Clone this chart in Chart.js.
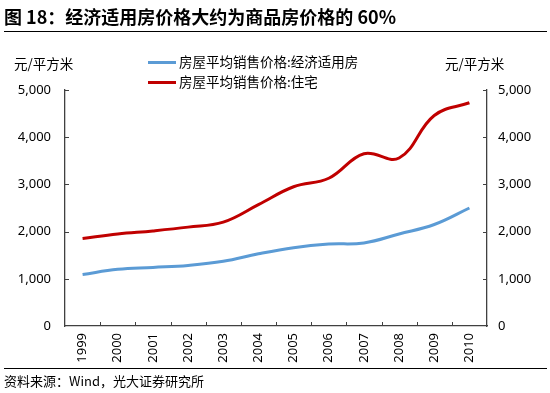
<!DOCTYPE html>
<html>
<head>
<meta charset="utf-8">
<script src="https://cdn.jsdelivr.net/npm/chart.js@4"></script>
<style>
  body { margin: 0; background: #fff; }
  #wrap { position: relative; width: 550px; height: 393px; overflow: hidden;
          font-family: "Noto Sans CJK SC", "Noto Sans", sans-serif; color: #000; }
  #myChart { position: absolute; left: 0; top: 0; }
  .title { position: absolute; left: 4px; top: 4px; font-size: 18px; font-weight: bold; white-space: nowrap; line-height: 25px; }
  .rule { position: absolute; left: 4px; width: 543px; height: 0; border-top: 1.5px solid #000; }
  .unit { position: absolute; top: 53px; font-size: 13.5px; line-height: 20px; white-space: nowrap; }
  .legend { position: absolute; left: 148px; top: 51px; font-size: 13.5px; line-height: 20px; }
  .legend div { white-space: nowrap; height: 20px; }
  .legend span { display: inline-block; width: 28px; height: 0; border-top: 3px solid; vertical-align: middle; margin-right: 3px; position: relative; top: -1px; }
  .source { position: absolute; left: 4px; top: 372px; font-size: 13px; line-height: 18px; white-space: nowrap; }
</style>
</head>
<body>
<div id="wrap">
  <canvas id="myChart" width="550" height="393"></canvas>
  <div class="title">图 18：经济适用房价格大约为商品房价格的 60%</div>
  <div class="rule" style="top:31px"></div>
  <div class="unit" style="left:14px">元/平方米</div>
  <div class="unit" style="left:445px">元/平方米</div>
  <div class="legend" id="legend"></div>
  <div class="rule" style="top:368px"></div>
  <div class="source">资料来源：Wind，光大证券研究所</div>
</div>
<script>
const years = ["1999", "2000", "2001", "2002", "2003", "2004", "2005", "2006", "2007", "2008", "2009", "2010"];
const affordable = [1090, 1200, 1240, 1283, 1370, 1530, 1660, 1735, 1760, 1950, 2150, 2500]; // 经济适用房
const housing = [1855, 1950, 2015, 2095, 2200, 2570, 2950, 3130, 3650, 3560, 4460, 4730];   // 住宅
const seriesNames = ["房屋平均销售价格:经济适用房", "房屋平均销售价格:住宅"];
const lineColors = ["#5B9BD5", "#C00000"];
const yTicks = [0, 1000, 2000, 3000, 4000, 5000];

const axisColor = "#404040";
const tickFont = { family: "'Noto Sans', 'Noto Sans CJK SC', sans-serif", size: 13 };

// legend as html text
document.getElementById("legend").innerHTML = seriesNames.map((n, i) =>
  '<div><span style="border-color:' + lineColors[i] + '"></span>' + n + '</div>').join("");

// short ticks pointing into the plot
const innerTicks = {
  id: "innerTicks",
  afterDraw(chart) {
    const ctx = chart.ctx;
    const x = chart.scales.x, yl = chart.scales.y, yr = chart.scales.y2;
    const area = chart.chartArea;
    ctx.save();
    ctx.strokeStyle = axisColor;
    ctx.lineWidth = 1;
    yTicks.slice(1).forEach(v => {
      const py = Math.round(yl.getPixelForValue(v)) + 0.5;
      ctx.beginPath(); ctx.moveTo(area.left, py); ctx.lineTo(area.left + 4, py); ctx.stroke();
      const pr = Math.round(yr.getPixelForValue(v)) + 0.5;
      ctx.beginPath(); ctx.moveTo(area.right, pr); ctx.lineTo(area.right - 4, pr); ctx.stroke();
    });
    for (let i = 0; i < years.length - 1; i++) {
      const px = Math.round((x.getPixelForValue(i) + x.getPixelForValue(i + 1)) / 2) + 0.5;
      ctx.beginPath(); ctx.moveTo(px, area.bottom); ctx.lineTo(px, area.bottom - 4); ctx.stroke();
    }
    ctx.restore();
  }
};

const yAxis = (pos, width) => ({
  type: "linear",
  position: pos,
  min: 0,
  max: 5000,
  afterBuildTicks: s => { s.ticks = yTicks.map(v => ({ value: v })); },
  afterFit: s => { s.width = width; },
  grid: { drawOnChartArea: false, drawTicks: false },
  border: { display: true, color: axisColor, width: 1.3 },
  ticks: {
    padding: pos === "left" ? 14 : 11,
    color: "#000",
    font: tickFont,
    callback: v => v.toLocaleString("en-US")
  }
});

new Chart("myChart", {
  type: "line",
  data: {
    labels: years,
    datasets: [
      { label: seriesNames[0], data: affordable, borderColor: lineColors[0], borderWidth: 3, pointRadius: 0, tension: 0.4, yAxisID: "y" },
      { label: seriesNames[1], data: housing, borderColor: lineColors[1], borderWidth: 3, pointRadius: 0, tension: 0.4, yAxisID: "y" },
      { label: "", data: [], yAxisID: "y2" }
    ]
  },
  plugins: [innerTicks],
  options: {
    responsive: false,
    animation: false,
    devicePixelRatio: 1,
    layout: { padding: { top: 90, bottom: 25, left: 0, right: 0 } },
    plugins: { legend: { display: false }, tooltip: { enabled: false } },
    scales: {
      x: {
        type: "category",
        offset: true,
        afterFit: s => { s.height = 42; },
        grid: { drawOnChartArea: false, drawTicks: false, offset: true },
        border: { display: true, color: axisColor, width: 1.3 },
        ticks: { minRotation: 90, maxRotation: 90, padding: 7, color: "#000", font: tickFont, autoSkip: false }
      },
      y: yAxis("left", 65),
      y2: yAxis("right", 63)
    }
  }
});
</script>
</body>
</html>
